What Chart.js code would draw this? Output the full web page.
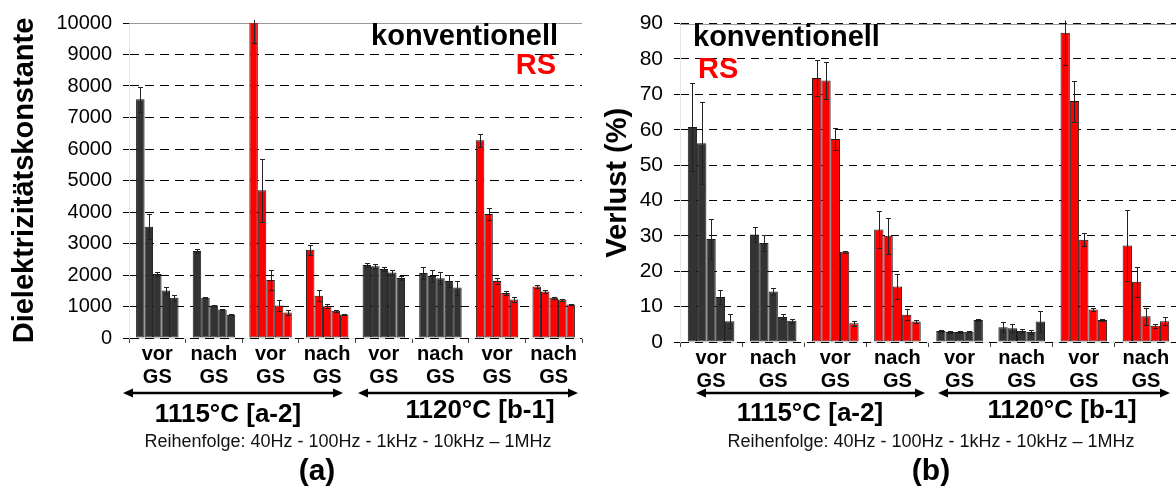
<!DOCTYPE html>
<html>
<head>
<meta charset="utf-8">
<script src="https://cdn.jsdelivr.net/npm/chart.js@4.4.0/dist/chart.umd.min.js"></script>
<style>
  html, body { margin: 0; padding: 0; background: #fff; overflow: hidden; }
  body { width: 1176px; height: 490px; position: relative; }
  canvas { position: absolute; top: 0; }
  #dkChart { left: 0; }
  #lossChart { left: 590px; }
</style>
</head>
<body>
<canvas id="dkChart" width="590" height="490"></canvas>
<canvas id="lossChart" width="600" height="490"></canvas>
<script>
const FONT = "'Liberation Sans', Arial, sans-serif";

// groups: konventionell / RS, vor / nach GS, for 1115°C and 1120°C
const groupLabels = [['vor', 'GS'], ['nach', 'GS'], ['vor', 'GS'], ['nach', 'GS'],
                     ['vor', 'GS'], ['nach', 'GS'], ['vor', 'GS'], ['nach', 'GS']];
const groupMethod = ['konventionell', 'konventionell', 'RS', 'RS',
                     'konventionell', 'konventionell', 'RS', 'RS'];
const frequencies = ['40Hz', '100Hz', '1kHz', '10kHz', '1MHz'];

// Dielektrizitätskonstante, one array per frequency (8 groups each)
const dk40Hz  = [7580, 2760, 10100, 2800, 2320, 2060, 6280, 1635];
const dk100Hz = [3530, 1280, 4690, 1340, 2280, 1970, 3940, 1480];
const dk1kHz  = [2030, 1030, 1840, 1010, 2190, 1895, 1810, 1280];
const dk10kHz = [1510, 905, 1030, 865, 2080, 1810, 1430, 1220];
const dk1MHz  = [1280, 740, 810, 750, 1905, 1600, 1220, 1060];
const dkErr40Hz  = [400, 50, 725, 160, 70, 180, 210, 60];
const dkErr100Hz = [400, 25, 1000, 170, 70, 180, 200, 40];
const dkErr1kHz  = [50, 20, 310, 60, 60, 190, 100, 30];
const dkErr10kHz = [115, 20, 180, 30, 70, 190, 70, 30];
const dkErr1MHz  = [90, 10, 90, 20, 70, 220, 70, 15];

// Verlust (%), one array per frequency
const loss40Hz  = [60.8, 30.4, 74.6, 31.8, 3.1, 4.2, 87.4, 27.3];
const loss100Hz = [56.2, 28.0, 73.9, 30.0, 2.8, 3.9, 68.1, 17.0];
const loss1kHz  = [29.1, 14.3, 57.4, 15.7, 2.8, 3.1, 28.9, 7.3];
const loss10kHz = [12.7, 7.1, 25.5, 7.7, 2.9, 2.8, 9.2, 4.6];
const loss1MHz  = [5.9, 6.0, 5.3, 5.8, 6.2, 5.8, 6.2, 5.9];
const lossErr40Hz  = [12.5, 2.0, 5.2, 5.2, 0.4, 1.5, 9.2, 10.0];
const lossErr100Hz = [11.5, 2.3, 5.3, 5.0, 0.3, 1.2, 5.8, 4.2];
const lossErr1kHz  = [5.6, 1.1, 3.0, 3.5, 0.2, 0.6, 1.8, 2.4];
const lossErr10kHz = [2.0, 0.7, 0.3, 1.5, 0.2, 0.6, 0.3, 0.6];
const lossErr1MHz  = [2.0, 0.5, 0.7, 0.3, 0.3, 3.1, 0.2, 1.2];

const dkValues = [dk40Hz, dk100Hz, dk1kHz, dk10kHz, dk1MHz];
const dkErrors = [dkErr40Hz, dkErr100Hz, dkErr1kHz, dkErr10kHz, dkErr1MHz];
const lossValues = [loss40Hz, loss100Hz, loss1kHz, loss10kHz, loss1MHz];
const lossErrors = [lossErr40Hz, lossErr100Hz, lossErr1kHz, lossErr10kHz, lossErr1MHz];

const methodColor = { konventionell: '#333333', RS: '#ff0000' };
const barColors = groupMethod.map(m => methodColor[m]);

function makeDatasets(values) {
  return frequencies.map((f, i) => ({
    label: f,
    data: values[i],
    backgroundColor: barColors,
    borderColor: '#1a1a1a',
    borderWidth: 1,
    borderSkipped: false,
    categoryPercentage: 0.75,
    barPercentage: 1.0
  }));
}

// solid frame line at the top, then whiskers from the error arrays
const errorBars = {
  id: 'errorBars',
  beforeDatasetsDraw(chart) {
    const { ctx, chartArea } = chart;
    ctx.save();
    ctx.strokeStyle = '#9a9a9a';
    ctx.lineWidth = 1;
    ctx.beginPath();
    ctx.moveTo(chartArea.left, Math.round(chartArea.top) + 0.5);
    ctx.lineTo(chartArea.right, Math.round(chartArea.top) + 0.5);
    ctx.stroke();
    ctx.restore();
  },
  afterDatasetsDraw(chart, args, o) {
    const { ctx, chartArea, scales: { y } } = chart;
    ctx.save();
    ctx.beginPath();
    ctx.rect(chartArea.left, chartArea.top - 3, chartArea.width, chartArea.height + 3);
    ctx.clip();
    ctx.strokeStyle = '#222';
    ctx.lineWidth = 1;
    chart.data.datasets.forEach((ds, i) => {
      const errs = o.errors[i];
      chart.getDatasetMeta(i).data.forEach((bar, j) => {
        const v = ds.data[j], e = errs[j];
        const yTop = Math.round(y.getPixelForValue(v + e)) + 0.5;
        const yBot = Math.round(y.getPixelForValue(v - e)) + 0.5;
        const x = Math.round(bar.x) + 0.5;
        ctx.beginPath();
        ctx.moveTo(x, yTop); ctx.lineTo(x, yBot);
        ctx.moveTo(x - 2.5, yTop); ctx.lineTo(x + 2.5, yTop);
        ctx.moveTo(x - 2.5, yBot); ctx.lineTo(x + 2.5, yBot);
        ctx.stroke();
      });
    });
    ctx.restore();
  }
};

function drawArrow(ctx, x1, x2, y) {
  const len = 10, half = 4.5;
  ctx.lineWidth = 2.5;
  ctx.beginPath();
  ctx.moveTo(x1 + len - 2, y); ctx.lineTo(x2 - len + 2, y);
  ctx.stroke();
  ctx.beginPath();
  ctx.moveTo(x1, y); ctx.lineTo(x1 + len, y - half); ctx.lineTo(x1 + len, y + half);
  ctx.closePath(); ctx.fill();
  ctx.beginPath();
  ctx.moveTo(x2, y); ctx.lineTo(x2 - len, y - half); ctx.lineTo(x2 - len, y + half);
  ctx.closePath(); ctx.fill();
}

// method names inside the plot and the grouping captions underneath
const panelText = {
  id: 'panelText',
  afterDraw(chart, args, o) {
    const ctx = chart.ctx;
    ctx.save();
    ctx.font = 'bold 29px ' + FONT;
    ctx.textBaseline = 'alphabetic';
    ctx.textAlign = o.keyAlign;
    ctx.fillStyle = '#000';
    ctx.fillText('konventionell', o.konvX, o.konvY);
    ctx.fillStyle = '#ff0000';
    ctx.fillText('RS', o.rsX, o.rsY);

    ctx.fillStyle = '#000';
    ctx.strokeStyle = '#000';
    o.arrows.forEach(a => drawArrow(ctx, a[0], a[1], o.arrowY));

    ctx.textAlign = 'center';
    ctx.font = 'bold 26px ' + FONT;
    o.temps.forEach(t => ctx.fillText(t.text, t.x, t.y));

    ctx.font = '18px ' + FONT;
    ctx.fillStyle = '#111';
    ctx.fillText('Reihenfolge: 40Hz - 100Hz - 1kHz - 10kHz \u2013 1MHz', o.orderX, o.orderY);

    ctx.fillStyle = '#000';
    ctx.font = 'bold 30px ' + FONT;
    ctx.textBaseline = 'middle';
    ctx.fillText(o.tag, o.tagX, o.tagY);
    ctx.restore();
  }
};

function makeChart(id, cfg) {
  return new Chart(document.getElementById(id), {
    type: 'bar',
    data: { labels: groupLabels, datasets: makeDatasets(cfg.values) },
    options: {
      responsive: false,
      devicePixelRatio: 1,
      animation: false,
      layout: { padding: { top: cfg.top, right: cfg.right } },
      plugins: {
        legend: { display: false },
        tooltip: { enabled: false },
        errorBars: { errors: cfg.errors },
        panelText: cfg.text
      },
      scales: {
        x: {
          afterFit: s => { s.height = cfg.xHeight; },
          grid: { offset: true, drawOnChartArea: false, tickLength: 5, color: '#444' },
          ticks: {
            color: '#000', padding: 0, maxRotation: 0, autoSkip: false,
            font: { family: FONT, size: 20, weight: 'bold', lineHeight: 1.15 }
          }
        },
        y: {
          min: 0, max: cfg.max,
          afterFit: s => { s.width = cfg.yWidth; },
          grid: { color: '#000', tickLength: 6 },
          border: { dash: cfg.dash },
          ticks: {
            stepSize: cfg.step, color: '#000', padding: 11,
            font: { family: FONT, size: cfg.tickSize },
            callback: v => String(v)
          },
          title: {
            display: true, text: cfg.title, color: '#000',
            font: { family: FONT, size: cfg.titleSize, weight: 'bold', lineHeight: 1 },
            padding: { top: cfg.titlePad, bottom: 0 }
          }
        }
      }
    },
    plugins: [errorBars, panelText]
  });
}

makeChart('dkChart', {
  values: dkValues, errors: dkErrors,
  max: 10000, step: 1000, tickSize: 20, dash: [9, 6],
  top: 18, right: 8, xHeight: 152, yWidth: 129,
  title: 'Dielektrizitätskonstante', titleSize: 29, titlePad: 10,
  text: {
    keyAlign: 'right', konvX: 558, konvY: 45, rsX: 556, rsY: 74,
    arrowY: 393, arrows: [[123, 343], [358, 578]],
    temps: [{ text: '1115°C [a-2]', x: 228, y: 422 }, { text: '1120°C [b-1]', x: 480, y: 418 }],
    orderX: 348, orderY: 447,
    tag: '(a)', tagX: 317, tagY: 472
  }
});

makeChart('lossChart', {
  values: lossValues, errors: lossErrors,
  max: 90, step: 10, tickSize: 21, dash: [8, 6],
  top: 21, right: 13, xHeight: 148, yWidth: 90,
  title: 'Verlust (%)', titleSize: 29, titlePad: 13,
  text: {
    keyAlign: 'left', konvX: 103, konvY: 46, rsX: 108, rsY: 78,
    arrowY: 393, arrows: [[106, 335], [348, 580]],
    temps: [{ text: '1115°C [a-2]', x: 220, y: 421 }, { text: '1120°C [b-1]', x: 472, y: 418 }],
    orderX: 341, orderY: 447,
    tag: '(b)', tagX: 341, tagY: 472
  }
});
</script>
</body>
</html>
